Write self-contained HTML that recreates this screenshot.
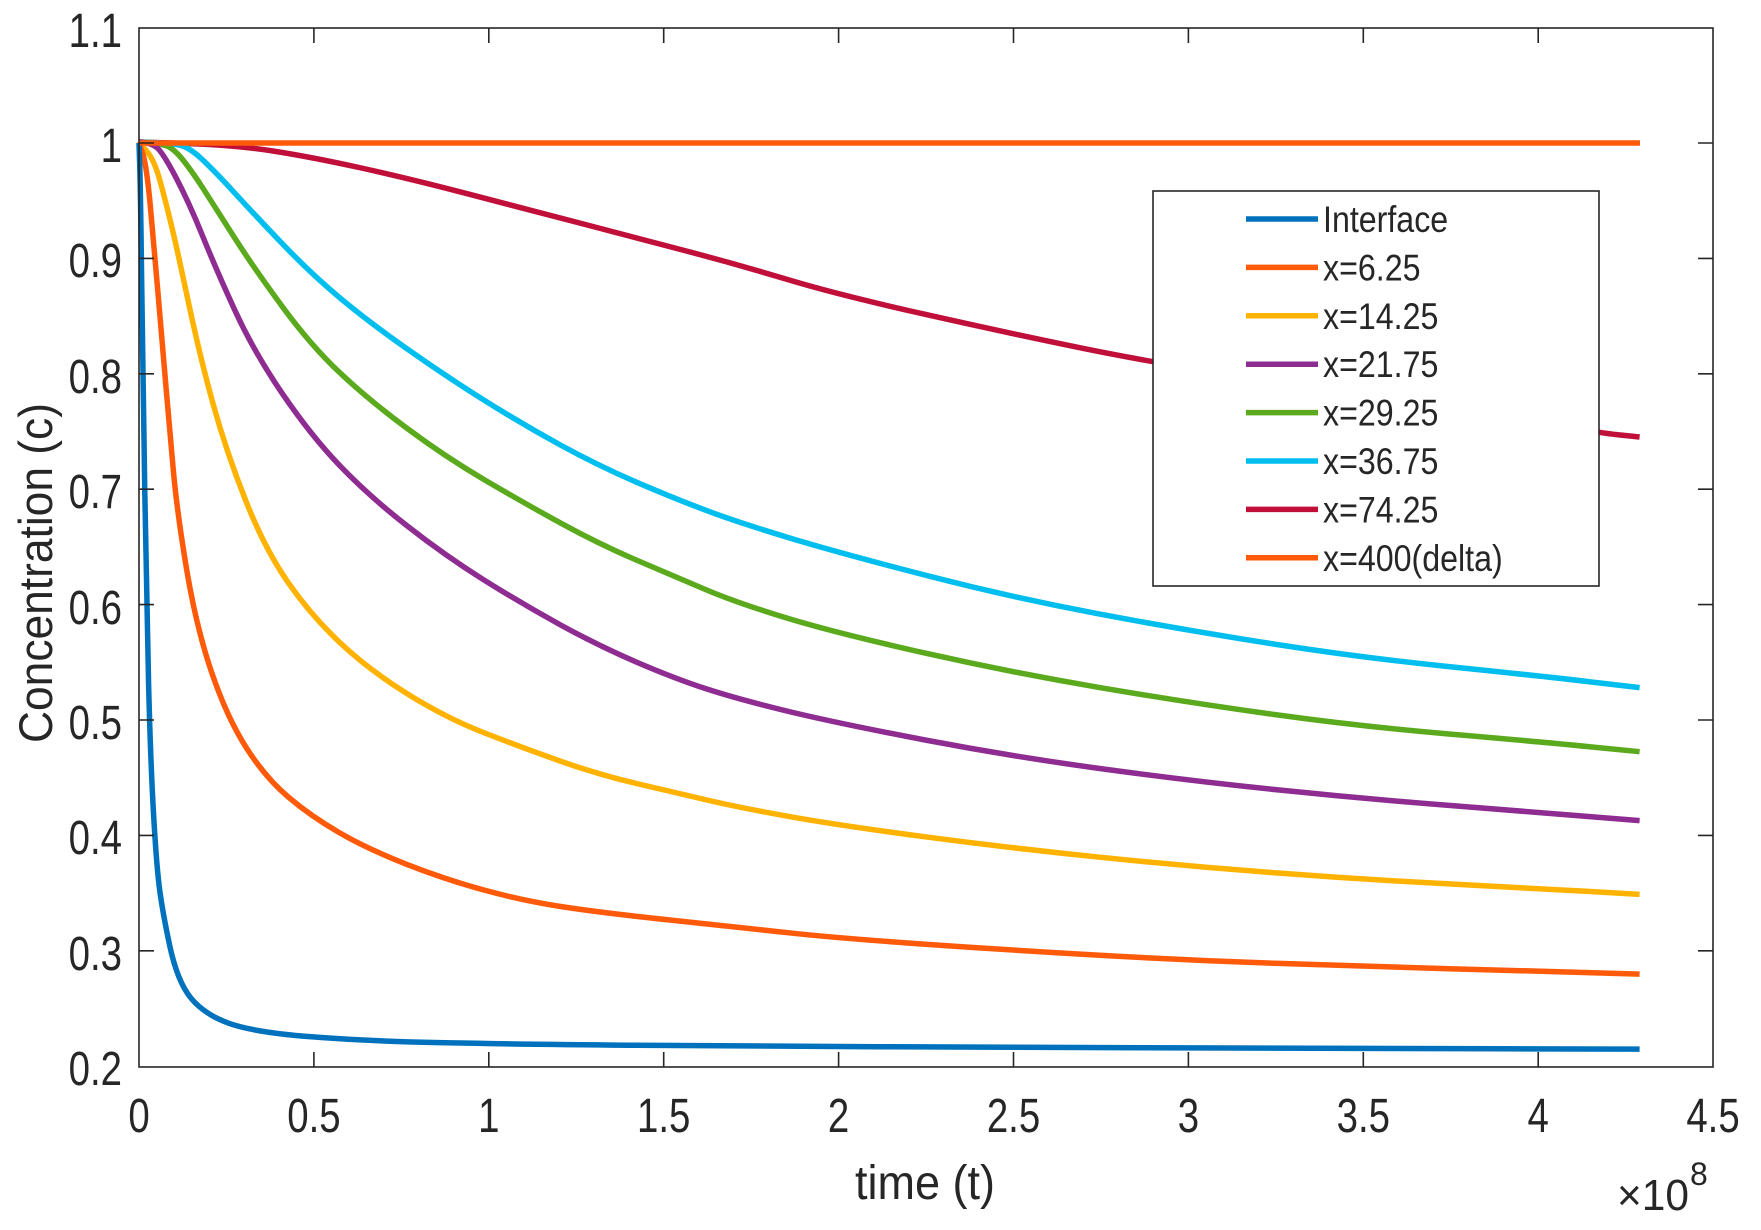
<!DOCTYPE html>
<html><head><meta charset="utf-8"><style>
html,body{margin:0;padding:0;background:#fff;}
svg{display:block;font-family:"Liberation Sans",Arial,sans-serif;}
</style></head><body>
<svg width="1761" height="1230" viewBox="0 0 1761 1230" xmlns="http://www.w3.org/2000/svg">
<rect width="1761" height="1230" fill="#fff"/>
<g fill="none" stroke-width="5.5" stroke-linejoin="round" stroke-linecap="butt">
<path stroke="#C0103A" d="M139,142 L186.85,143.5 Q234.7,145 272.95,151 Q311.2,157 359.05,167.5 Q406.9,178 464.3,192.95 Q521.7,207.9 579.1,222.9 Q636.5,237.9 687.75,251.4 Q739,264.9 788.8,279.9 Q838.6,294.9 925.15,314.35 Q1011.7,333.8 1082.1,348.2 Q1152.5,362.6 1264,380.3 Q1375.5,398 1487,415.4 Q1598.5,432.8 1619.05,434.9 L1639.6,437"/>
<path stroke="#00BEEE" d="M139,142 L154.3,142.6 Q169.6,143.2 179.2,145 Q188.8,146.8 202.15,159.4 Q215.5,172 234.65,192.95 Q253.8,213.9 282.5,243.9 Q311.2,273.9 339.9,297.85 Q368.6,321.8 406.9,348.8 Q445.2,375.8 483.45,399.8 Q521.7,423.8 559.95,444.75 Q598.2,465.7 636.5,482.2 Q674.8,498.7 706.9,510.7 Q739,522.7 788.8,537.7 Q838.6,552.7 925.15,575.15 Q1011.7,597.6 1099.7,614.1 Q1187.7,630.6 1274.3,644.1 Q1360.9,657.6 1448.9,666.6 Q1536.9,675.6 1588.25,681.6 L1639.6,687.6"/>
<path stroke="#5BAA1E" d="M139,142 L148.55,142.6 Q158.1,143.2 165.75,145.6 Q173.4,148 183,160 Q192.6,172 204.05,189.95 Q215.5,207.9 234.65,237.9 Q253.8,267.9 282.5,306.85 Q311.2,345.8 339.9,372.8 Q368.6,399.8 406.9,428.25 Q445.2,456.7 483.45,479.2 Q521.7,501.7 559.95,522.7 Q598.2,543.7 636.5,560.15 Q674.8,576.6 706.9,590.1 Q739,603.6 788.8,618.6 Q838.6,633.6 925.15,653.1 Q1011.7,672.6 1099.7,687.55 Q1187.7,702.5 1274.3,714.5 Q1360.9,726.5 1448.9,734 Q1536.9,741.5 1588.25,746.6 L1639.6,751.7"/>
<path stroke="#8E2C92" d="M139,142 L144.75,142.6 Q150.5,143.2 156.25,147.1 Q162,151 175.4,176.45 Q188.8,201.9 202.15,234.9 Q215.5,267.9 234.65,309.85 Q253.8,351.8 282.5,393.8 Q311.2,435.8 339.9,465.75 Q368.6,495.7 406.9,525.7 Q445.2,555.7 483.45,579.65 Q521.7,603.6 559.95,624.6 Q598.2,645.6 636.5,662.1 Q674.8,678.6 706.9,689.05 Q739,699.5 788.8,711.5 Q838.6,723.5 925.15,740 Q1011.7,756.5 1099.7,768.5 Q1187.7,780.5 1274.3,789.5 Q1360.9,798.5 1448.9,805.4 Q1536.9,812.3 1588.25,816.45 L1639.6,820.6"/>
<path stroke="#FFB300" d="M139,142 L146.65,151 Q154.3,160 160.05,180.95 Q165.8,201.9 171.55,225.9 Q177.3,249.9 188.75,303.85 Q200.2,357.8 213.6,405.75 Q227,453.7 246.15,501.7 Q265.3,549.7 288.25,582.65 Q311.2,615.6 339.9,642.6 Q368.6,669.6 406.9,693.55 Q445.2,717.5 483.45,732.5 Q521.7,747.5 559.95,761 Q598.2,774.5 636.5,783.5 Q674.8,792.5 706.9,800 Q739,807.5 788.8,816.45 Q838.6,825.4 925.15,836.8 Q1011.7,848.2 1099.7,857.2 Q1187.7,866.2 1274.3,872.8 Q1360.9,879.4 1448.9,883.9 Q1536.9,888.4 1588.25,891.4 L1639.6,894.4"/>
<path stroke="#FF5A0A" d="M139,142 L142.85,154 Q146.7,166 150.5,207.95 Q154.3,249.9 158.15,294.85 Q162,339.8 165.8,384.8 Q169.6,429.8 173.45,471.75 Q177.3,513.7 186.85,570.65 Q196.4,627.6 211.7,672.55 Q227,717.5 246.15,747.5 Q265.3,777.5 288.25,797 Q311.2,816.5 339.9,832.95 Q368.6,849.4 406.9,864.4 Q445.2,879.4 483.45,889.9 Q521.7,900.4 559.95,906.4 Q598.2,912.4 668.6,919.9 Q739,927.4 788.8,932.8 Q838.6,938.2 925.15,944.2 Q1011.7,950.2 1099.7,955.25 Q1187.7,960.3 1274.3,963.3 Q1360.9,966.3 1448.9,968.7 Q1536.9,971.1 1588.25,972.6 L1639.6,974.1"/>
<path stroke="#0072BD" d="M139,143 L139.75,166.5 Q140.5,190 141.65,279.9 Q142.8,369.8 144.75,489.7 Q146.7,609.6 148.6,684.55 Q150.5,759.5 153.35,810.45 Q156.2,861.4 159.1,885.4 Q162,909.4 169.65,945.35 Q177.3,981.3 190.7,997.8 Q204.1,1014.3 228.95,1023.3 Q253.8,1032.3 311.2,1036.8 Q368.6,1041.3 445.15,1042.8 Q521.7,1044.3 630.35,1045.2 Q739,1046.1 875.35,1046.7 Q1011.7,1047.3 1186.3,1047.9 Q1360.9,1048.5 1500.25,1048.8 L1639.6,1049.1"/>
<path stroke="#FF5A0A" d="M139,143 L1640,143"/>
</g>
<rect x="139" y="28" width="1574" height="1039" fill="none" stroke="#262626" stroke-width="1.6"/>
<g stroke="#262626" stroke-width="1.6">
<path d="M313.9,1067v-15M488.8,1067v-15M663.7,1067v-15M838.6,1067v-15M1013.5,1067v-15M1188.4,1067v-15M1363.3,1067v-15M1538.2,1067v-15
M313.9,28v15M488.8,28v15M663.7,28v15M838.6,28v15M1013.5,28v15M1188.4,28v15M1363.3,28v15M1538.2,28v15
M139,950.8h15M139,835.4h15M139,720h15M139,604.6h15M139,489.2h15M139,373.8h15M139,258.4h15M139,143h15
M1713,950.8h-15M1713,835.4h-15M1713,720h-15M1713,604.6h-15M1713,489.2h-15M1713,373.8h-15M1713,258.4h-15M1713,143h-15"/>
</g>
<g fill="#262626" font-size="48">
<g text-anchor="middle">
<text transform="translate(139,1132) scale(0.8,1)">0</text>
<text transform="translate(313.9,1132) scale(0.8,1)">0.5</text>
<text transform="translate(488.8,1132) scale(0.8,1)">1</text>
<text transform="translate(663.7,1132) scale(0.8,1)">1.5</text>
<text transform="translate(838.6,1132) scale(0.8,1)">2</text>
<text transform="translate(1013.5,1132) scale(0.8,1)">2.5</text>
<text transform="translate(1188.4,1132) scale(0.8,1)">3</text>
<text transform="translate(1363.3,1132) scale(0.8,1)">3.5</text>
<text transform="translate(1538.2,1132) scale(0.8,1)">4</text>
<text transform="translate(1713,1132) scale(0.8,1)">4.5</text>
</g>
<g text-anchor="end">
<text transform="translate(122,1085) scale(0.8,1)">0.2</text>
<text transform="translate(122,970) scale(0.8,1)">0.3</text>
<text transform="translate(122,854) scale(0.8,1)">0.4</text>
<text transform="translate(122,739) scale(0.8,1)">0.5</text>
<text transform="translate(122,624) scale(0.8,1)">0.6</text>
<text transform="translate(122,508) scale(0.8,1)">0.7</text>
<text transform="translate(122,393) scale(0.8,1)">0.8</text>
<text transform="translate(122,277) scale(0.8,1)">0.9</text>
<text transform="translate(122,162) scale(0.8,1)">1</text>
<text transform="translate(122,47) scale(0.8,1)">1.1</text>
</g>
</g>
<text x="855" y="1199" font-size="48" fill="#262626" textLength="140" lengthAdjust="spacingAndGlyphs">time (t)</text>
<text transform="translate(52,743) rotate(-90)" font-size="47" fill="#262626" textLength="340" lengthAdjust="spacingAndGlyphs">Concentration (c)</text>
<text x="1617" y="1210" font-size="44" fill="#262626" textLength="72" lengthAdjust="spacingAndGlyphs">×10</text>
<text x="1690" y="1185" font-size="32" fill="#262626">8</text>
<rect x="1153" y="191" width="446" height="395" fill="#fff" stroke="#262626" stroke-width="1.6"/>
<g stroke-width="5.5">
<line x1="1246" x2="1318" y1="219" y2="219" stroke="#0072BD"/>
<line x1="1246" x2="1318" y1="267.4" y2="267.4" stroke="#FF5A0A"/>
<line x1="1246" x2="1318" y1="315.8" y2="315.8" stroke="#FFB300"/>
<line x1="1246" x2="1318" y1="364.2" y2="364.2" stroke="#8E2C92"/>
<line x1="1246" x2="1318" y1="412.6" y2="412.6" stroke="#5BAA1E"/>
<line x1="1246" x2="1318" y1="461" y2="461" stroke="#00BEEE"/>
<line x1="1246" x2="1318" y1="509.4" y2="509.4" stroke="#C0103A"/>
<line x1="1246" x2="1318" y1="557.8" y2="557.8" stroke="#FF5A0A"/>
</g>
<g font-size="37" fill="#262626">
<text transform="translate(1323,232) scale(0.87,1)">Interface</text>
<text transform="translate(1323,280.4) scale(0.87,1)">x=6.25</text>
<text transform="translate(1323,328.8) scale(0.87,1)">x=14.25</text>
<text transform="translate(1323,377.2) scale(0.87,1)">x=21.75</text>
<text transform="translate(1323,425.6) scale(0.87,1)">x=29.25</text>
<text transform="translate(1323,474) scale(0.87,1)">x=36.75</text>
<text transform="translate(1323,522.4) scale(0.87,1)">x=74.25</text>
<text transform="translate(1323,570.8) scale(0.87,1)">x=400(delta)</text>
</g>
</svg>
</body></html>
